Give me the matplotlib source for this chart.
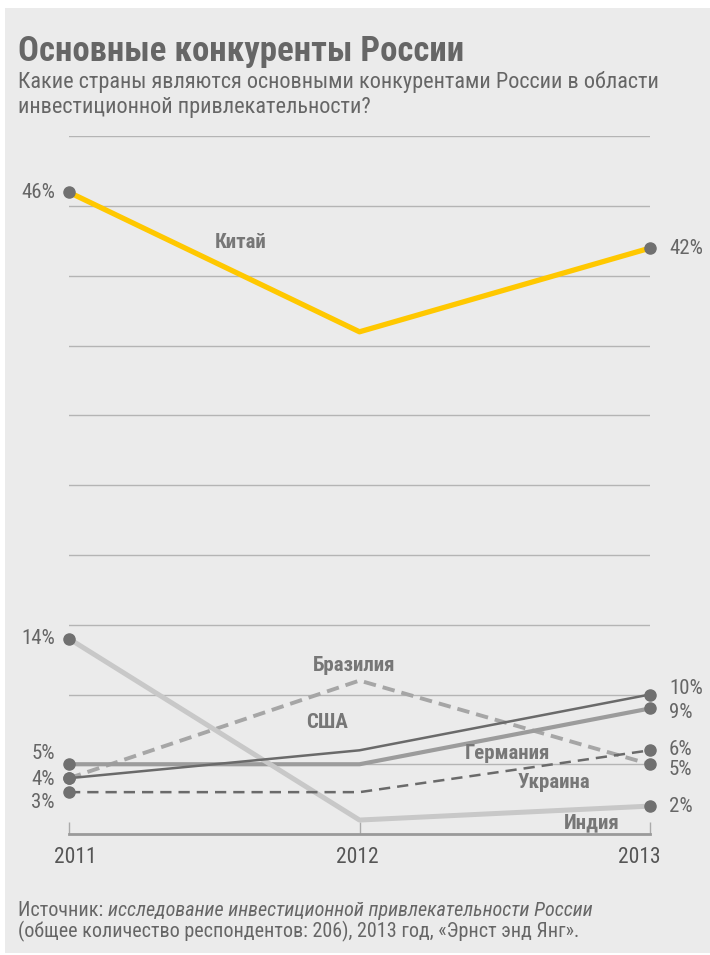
import matplotlib
matplotlib.use("Agg")
import matplotlib.pyplot as plt
from matplotlib import font_manager
from matplotlib.patches import Rectangle

# data
years = [2011, 2012, 2013]
china = [46, 36, 42]
india = [14, 1, 2]
brazil = [4, 11, 5]
usa = [4, 6, 10]
germany = [5, 5, 9]
ukraine = [3, 3, 6]

names = [f.name for f in font_manager.fontManager.ttflist]
font = 'DejaVu Sans'
for cand in ['Roboto Condensed', 'Liberation Sans Narrow', 'Open Sans Condensed', 'Roboto']:
    if cand in names:
        font = cand
        break
plt.rcParams['font.family'] = [font, 'DejaVu Sans']

W, H = 710, 955
fig = plt.figure(figsize=(W / 100, H / 100), dpi=100, facecolor='white')
fig.patches.append(Rectangle((5 / W, 2 / H), 705 / W, 945 / H, transform=fig.transFigure,
                             facecolor='#ebebeb', edgecolor='none', zorder=-10))

ax = fig.add_axes([69 / W, (H - 834) / H, 581 / W, 697.5 / H])
ax.set_zorder(5)
ax.set_facecolor('none')
ax.set_xlim(2011, 2013)
ax.set_ylim(0, 50)

for g in range(5, 55, 5):
    ax.axhline(g, color='#b4b4b4', lw=1, zorder=1)

dk = '#6a6a6a'
ax.plot(years, china, color='#ffc800', lw=3.8, zorder=5)
ax.plot(years, brazil, color='#a6a6a6', lw=2.8, ls=(0, (3.2, 1.8)), zorder=3)
ax.plot(years, india, color='#c8c8c8', lw=3.6, zorder=4)
ax.plot(years, germany, color='#9c9c9c', lw=3, zorder=3)
ax.plot(years, usa, color=dk, lw=1.8, zorder=4)
ax.plot(years, ukraine, color=dk, lw=1.8, ls=(0, (4.5, 2.8)), zorder=4)

# end markers
for s in [china, india, brazil, usa, germany, ukraine]:
    ax.plot([years[0], years[-1]], [s[0], s[-1]], 'o', color='#707070', ms=8,
            zorder=6, clip_on=False)

lab = dict(color='#666666', fontsize=15)


def pct(x, y, dy, side):
    off = -14 if side == 'l' else 19
    ax.annotate(f'{y}%', (x, y), xytext=(off * 0.72, -dy * 0.72), textcoords='offset points',
                ha='right' if side == 'l' else 'left', va='center', annotation_clip=False, **lab)


# left labels
pct(2011, china[0], 0, 'l')
pct(2011, india[0], 0, 'l')
pct(2011, germany[0], -11, 'l')
pct(2011, usa[0], 1, 'l')
pct(2011, ukraine[0], 10, 'l')
# right labels
pct(2013, china[2], 0, 'r')
pct(2013, usa[2], -6, 'r')
pct(2013, germany[2], 4, 'r')
pct(2013, ukraine[2], -1, 'r')
pct(2013, brazil[2], 5, 'r')
pct(2013, india[2], 0, 'r')

nm = dict(color='#777777', fontsize=15, fontweight='bold', ha='center', va='center')
ax.text(2011.59, 42.4, 'Китай', **nm)
ax.text(2011.98, 12.1, 'Бразилия', **nm)
ax.text(2011.89, 7.96, 'США', **nm)
ax.text(2012.51, 5.8, 'Германия', **nm)
ax.text(2012.67, 3.66, 'Украина', **nm)
ax.text(2012.80, 0.79, 'Индия', **nm)

for sp in ['top', 'left', 'right']:
    ax.spines[sp].set_visible(False)
ax.spines['bottom'].set_color('#9a9a9a')
ax.spines['bottom'].set_linewidth(2)
ax.set_yticks([])
ax.set_xticks(years)
ax.set_xticklabels([])
ax.tick_params(axis='x', direction='in', length=9, width=1, color='#aaaaaa')

# year labels, nudged inwards like the original
for yr, dx in zip(years, [6, -2, -11]):
    ax.annotate(str(yr), (yr, 0), xytext=(dx * 0.72, -23 * 0.72), textcoords='offset points',
                ha='center', va='center', color='#555555', fontsize=15.5,
                annotation_clip=False)

# title block
fig.text(18 / W, 1 - 51 / H, 'Основные конкуренты России', fontsize=25, fontweight='bold',
         color='#666666', va='center')
fig.text(18 / W, 1 - 82 / H, 'Какие страны являются основными конкурентами России в области',
         fontsize=16, color='#666666', va='center')
fig.text(18 / W, 1 - 108 / H, 'инвестиционной привлекательности?',
         fontsize=16, color='#666666', va='center')

# source
t1 = fig.text(18 / W, 1 - 910 / H, 'Источник: ', fontsize=14.5, color='#666666', va='center')
r = fig.canvas.get_renderer()
bb = t1.get_window_extent(renderer=r)
fig.text(bb.x1 / W, 1 - 910 / H, 'исследование инвестиционной привлекательности России',
         fontsize=14.5, color='#666666', va='center', style='italic')
fig.text(18 / W, 1 - 931 / H, '(общее количество респондентов: 206), 2013 год, «Эрнст энд Янг».',
         fontsize=14.5, color='#666666', va='center')

fig.savefig('out.png', dpi=100, facecolor='white')
